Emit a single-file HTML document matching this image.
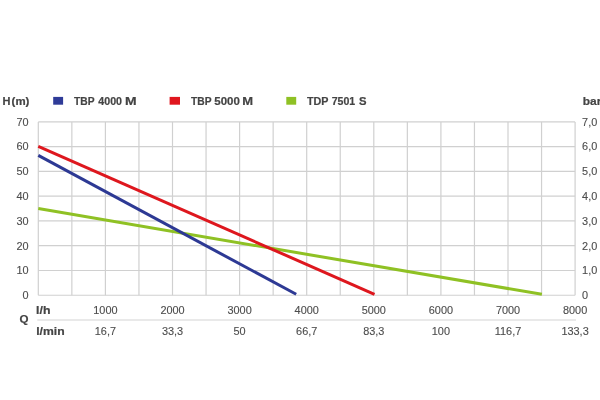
<!DOCTYPE html>
<html><head><meta charset="utf-8"><style>
html,body{margin:0;padding:0;background:#fff;}
svg{display:block;will-change:transform;}
text{font-family:"Liberation Sans",sans-serif;}
</style></head><body>
<svg width="600" height="400" viewBox="0 0 600 400">
<rect width="600" height="400" fill="#fff"/>
<g stroke="#d0d0d0" stroke-width="1.2" fill="none">
<line x1="38.30" y1="121.9" x2="38.30" y2="295.25"/>
<line x1="71.85" y1="121.9" x2="71.85" y2="295.25"/>
<line x1="105.40" y1="121.9" x2="105.40" y2="295.25"/>
<line x1="138.95" y1="121.9" x2="138.95" y2="295.25"/>
<line x1="172.50" y1="121.9" x2="172.50" y2="295.25"/>
<line x1="206.05" y1="121.9" x2="206.05" y2="295.25"/>
<line x1="239.60" y1="121.9" x2="239.60" y2="295.25"/>
<line x1="273.15" y1="121.9" x2="273.15" y2="295.25"/>
<line x1="306.70" y1="121.9" x2="306.70" y2="295.25"/>
<line x1="340.25" y1="121.9" x2="340.25" y2="295.25"/>
<line x1="373.80" y1="121.9" x2="373.80" y2="295.25"/>
<line x1="407.35" y1="121.9" x2="407.35" y2="295.25"/>
<line x1="440.90" y1="121.9" x2="440.90" y2="295.25"/>
<line x1="474.45" y1="121.9" x2="474.45" y2="295.25"/>
<line x1="508.00" y1="121.9" x2="508.00" y2="295.25"/>
<line x1="541.55" y1="121.9" x2="541.55" y2="295.25"/>
<line x1="575.10" y1="121.9" x2="575.10" y2="295.25"/>
<line x1="38.3" y1="295.25" x2="575.1" y2="295.25"/>
<line x1="38.3" y1="270.49" x2="575.1" y2="270.49"/>
<line x1="38.3" y1="245.72" x2="575.1" y2="245.72"/>
<line x1="38.3" y1="220.96" x2="575.1" y2="220.96"/>
<line x1="38.3" y1="196.19" x2="575.1" y2="196.19"/>
<line x1="38.3" y1="171.43" x2="575.1" y2="171.43"/>
<line x1="38.3" y1="146.66" x2="575.1" y2="146.66"/>
<line x1="38.3" y1="121.90" x2="575.1" y2="121.90"/>
</g>
<g stroke-width="3" stroke-linecap="butt" fill="none">
<line x1="38.30" y1="208.60" x2="541.90" y2="294.30" stroke="#8fc124"/>
<line x1="38.30" y1="146.40" x2="374.50" y2="294.30" stroke="#de171e"/>
<line x1="38.30" y1="155.40" x2="296.20" y2="294.30" stroke="#2d3994"/>
</g>
<g font-size="10.9" fill="#4d4d4d" stroke="#4d4d4d" stroke-width="0.12">
<text x="28.6" y="299.05" text-anchor="end">0</text>
<text x="582.1" y="299.05">0</text>
<text x="28.6" y="274.29" text-anchor="end">10</text>
<text x="582.1" y="274.29">1,0</text>
<text x="28.6" y="249.52" text-anchor="end">20</text>
<text x="582.1" y="249.52">2,0</text>
<text x="28.6" y="224.76" text-anchor="end">30</text>
<text x="582.1" y="224.76">3,0</text>
<text x="28.6" y="199.99" text-anchor="end">40</text>
<text x="582.1" y="199.99">4,0</text>
<text x="28.6" y="175.23" text-anchor="end">50</text>
<text x="582.1" y="175.23">5,0</text>
<text x="28.6" y="150.46" text-anchor="end">60</text>
<text x="582.1" y="150.46">6,0</text>
<text x="28.6" y="125.70" text-anchor="end">70</text>
<text x="582.1" y="125.70">7,0</text>
<text x="105.40" y="314.2" text-anchor="middle">1000</text>
<text x="105.40" y="334.6" text-anchor="middle">16,7</text>
<text x="172.50" y="314.2" text-anchor="middle">2000</text>
<text x="172.50" y="334.6" text-anchor="middle">33,3</text>
<text x="239.60" y="314.2" text-anchor="middle">3000</text>
<text x="239.60" y="334.6" text-anchor="middle">50</text>
<text x="306.70" y="314.2" text-anchor="middle">4000</text>
<text x="306.70" y="334.6" text-anchor="middle">66,7</text>
<text x="373.80" y="314.2" text-anchor="middle">5000</text>
<text x="373.80" y="334.6" text-anchor="middle">83,3</text>
<text x="440.90" y="314.2" text-anchor="middle">6000</text>
<text x="440.90" y="334.6" text-anchor="middle">100</text>
<text x="508.00" y="314.2" text-anchor="middle">7000</text>
<text x="508.00" y="334.6" text-anchor="middle">116,7</text>
<text x="575.10" y="314.2" text-anchor="middle">8000</text>
<text x="575.10" y="334.6" text-anchor="middle">133,3</text>
</g>
<line x1="37.25" y1="320" x2="576" y2="320" stroke="#d4d4d4" stroke-width="1.2"/>
<g font-size="10.8" font-weight="bold" fill="#444" stroke="#444" stroke-width="0.2">
<text x="2.6" y="104.8" font-size="11">H</text><text x="11.6" y="104.8" textLength="17.8" lengthAdjust="spacingAndGlyphs">(m)</text>
<text x="73.99" y="104.8" textLength="20.52" lengthAdjust="spacingAndGlyphs">TBP</text>
<text x="98.30" y="104.8" textLength="23.76" lengthAdjust="spacingAndGlyphs">4000</text>
<text x="124.99" y="104.8" textLength="11.62" lengthAdjust="spacingAndGlyphs">M</text>
<text x="190.99" y="104.8" textLength="20.52" lengthAdjust="spacingAndGlyphs">TBP</text>
<text x="214.29" y="104.8" textLength="25.52" lengthAdjust="spacingAndGlyphs">5000</text>
<text x="242.20" y="104.8" textLength="10.80" lengthAdjust="spacingAndGlyphs">M</text>
<text x="306.99" y="104.8" textLength="21.52" lengthAdjust="spacingAndGlyphs">TDP</text>
<text x="331.74" y="104.8" textLength="23.52" lengthAdjust="spacingAndGlyphs">7501</text>
<text x="359.00" y="104.8" textLength="7.51" lengthAdjust="spacingAndGlyphs">S</text>
<text x="582.8" y="104.8" textLength="18.6" lengthAdjust="spacingAndGlyphs">bar</text>
<text x="36.1" y="313.8" textLength="14.4" lengthAdjust="spacingAndGlyphs">l/h</text>
<text x="19.6" y="322.6" font-size="10" textLength="9" lengthAdjust="spacingAndGlyphs">Q</text>
<text x="36.2" y="334.9" textLength="28.4" lengthAdjust="spacingAndGlyphs">l/min</text>
</g>
<rect x="53.2" y="96.9" width="9.9" height="7.8" fill="#2f3b98"/>
<rect x="169.6" y="96.9" width="10.4" height="7.8" fill="#e0161e"/>
<rect x="286.3" y="96.9" width="9.9" height="7.8" fill="#8fc124"/>
</svg>
</body></html>
